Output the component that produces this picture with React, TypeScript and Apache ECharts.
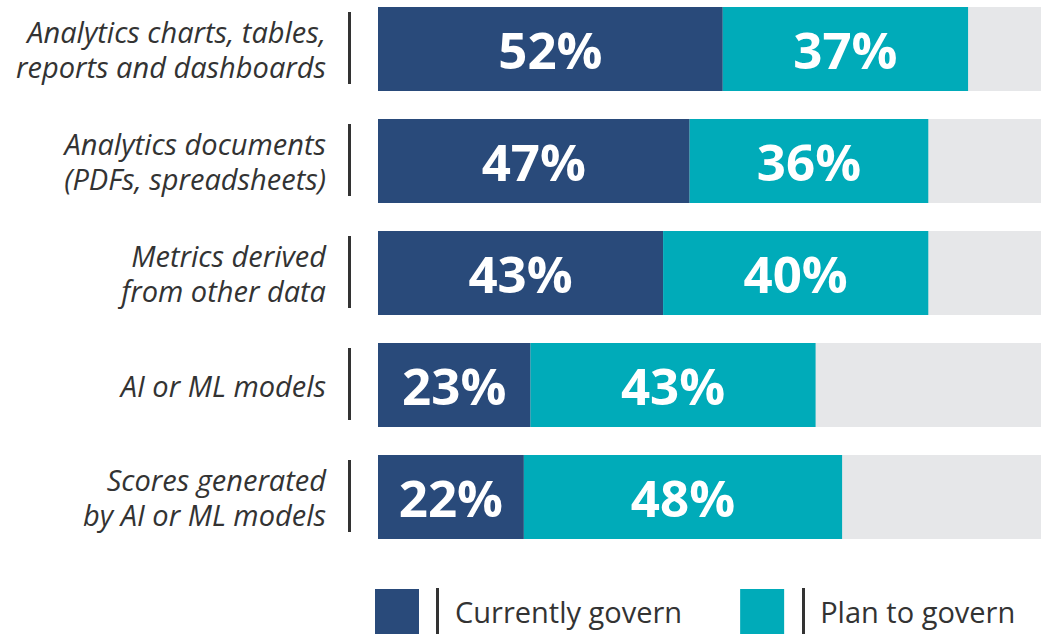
import React, { useEffect, useRef } from "react";
import * as echarts from "echarts";

const categories = [
  "Analytics charts, tables,\nreports and dashboards",
  "Analytics documents\n(PDFs, spreadsheets)",
  "Metrics derived\nfrom other data",
  "AI or ML models",
  "Scores generated\nby AI or ML models",
];
const currentlyGovern = [52, 47, 43, 23, 22];
const planToGovern = [37, 36, 40, 43, 48];
const seriesNames = ["Currently govern", "Plan to govern"];

const DARK = "#294a7a";
const TEAL = "#00abb9";
const GREY = "#e6e7e9";
const FONT = "'Open Sans', 'Noto Sans', sans-serif";
const SHIFT = 7;

export default function App() {
  const ref = useRef<HTMLDivElement>(null);
  useEffect(() => {
    if (!ref.current) return;
    const chart = echarts.init(ref.current, null, { renderer: "svg" });
    const barLabel = {
      show: true,
      position: "inside",
      formatter: "{c}%",
      color: "#ffffff",
      fontSize: 51,
      fontWeight: "bold",
      fontFamily: FONT,
    };
    chart.setOption({
      animation: false,
      backgroundColor: "#ffffff",
      grid: { left: 378, right: 4, top: 0, height: 560, containLabel: false },
      xAxis: {
        type: "value",
        min: 0,
        max: 100,
        show: false,
      },
      yAxis: {
        type: "category",
        data: categories,
        inverse: true,
        axisLine: { show: false },
        axisTick: { show: false },
        splitLine: { show: false },
        axisLabel: {
          margin: 52,
          fontSize: 29,
          fontStyle: "italic",
          fontFamily: FONT,
          color: "#333333",
          lineHeight: 35,
          align: "right",
        },
      },
      legend: {
        data: seriesNames,
        left: 375,
        top: 589 + SHIFT,
        padding: 0,
        icon: "rect",
        itemWidth: 44,
        itemHeight: 45,
        itemGap: 58,
        textStyle: {
          fontSize: 29,
          fontFamily: FONT,
          color: "#333333",
          padding: [0, 0, 0, 31],
        },
      },
      series: [
        {
          name: seriesNames[0],
          type: "bar",
          stack: "total",
          barWidth: 84,
          data: currentlyGovern,
          itemStyle: { color: DARK },
          showBackground: true,
          backgroundStyle: { color: GREY },
          label: barLabel,
        },
        {
          name: seriesNames[1],
          type: "bar",
          stack: "total",
          barWidth: 84,
          data: planToGovern,
          itemStyle: { color: TEAL },
          label: barLabel,
        },
        {
          name: "separator",
          type: "custom",
          silent: true,
          clip: false,
          data: categories.map((_, i) => [0, i]),
          encode: { x: 0, y: 1 },
          renderItem: (params: any, api: any) => {
            const p = api.coord([0, api.value(1)]);
            return {
              type: "line",
              shape: { x1: p[0] - 28.5, y1: p[1] - 37, x2: p[0] - 28.5, y2: p[1] + 35 },
              style: { stroke: "#333333", lineWidth: 3 },
            };
          },
        },
      ],
      graphic: [
        {
          type: "line",
          shape: { x1: 437.5, y1: 588 + SHIFT, x2: 437.5, y2: 641 },
          style: { stroke: "#333333", lineWidth: 3 },
        },
        {
          type: "line",
          shape: { x1: 803.5, y1: 588 + SHIFT, x2: 803.5, y2: 641 },
          style: { stroke: "#333333", lineWidth: 3 },
        },
      ],
    });
    return () => chart.dispose();
  }, []);
  return (
    <div
      ref={ref}
      style={{ position: "fixed", left: 0, top: -SHIFT, width: 1045, height: 634 + SHIFT, background: "#fff" }}
    />
  );
}
